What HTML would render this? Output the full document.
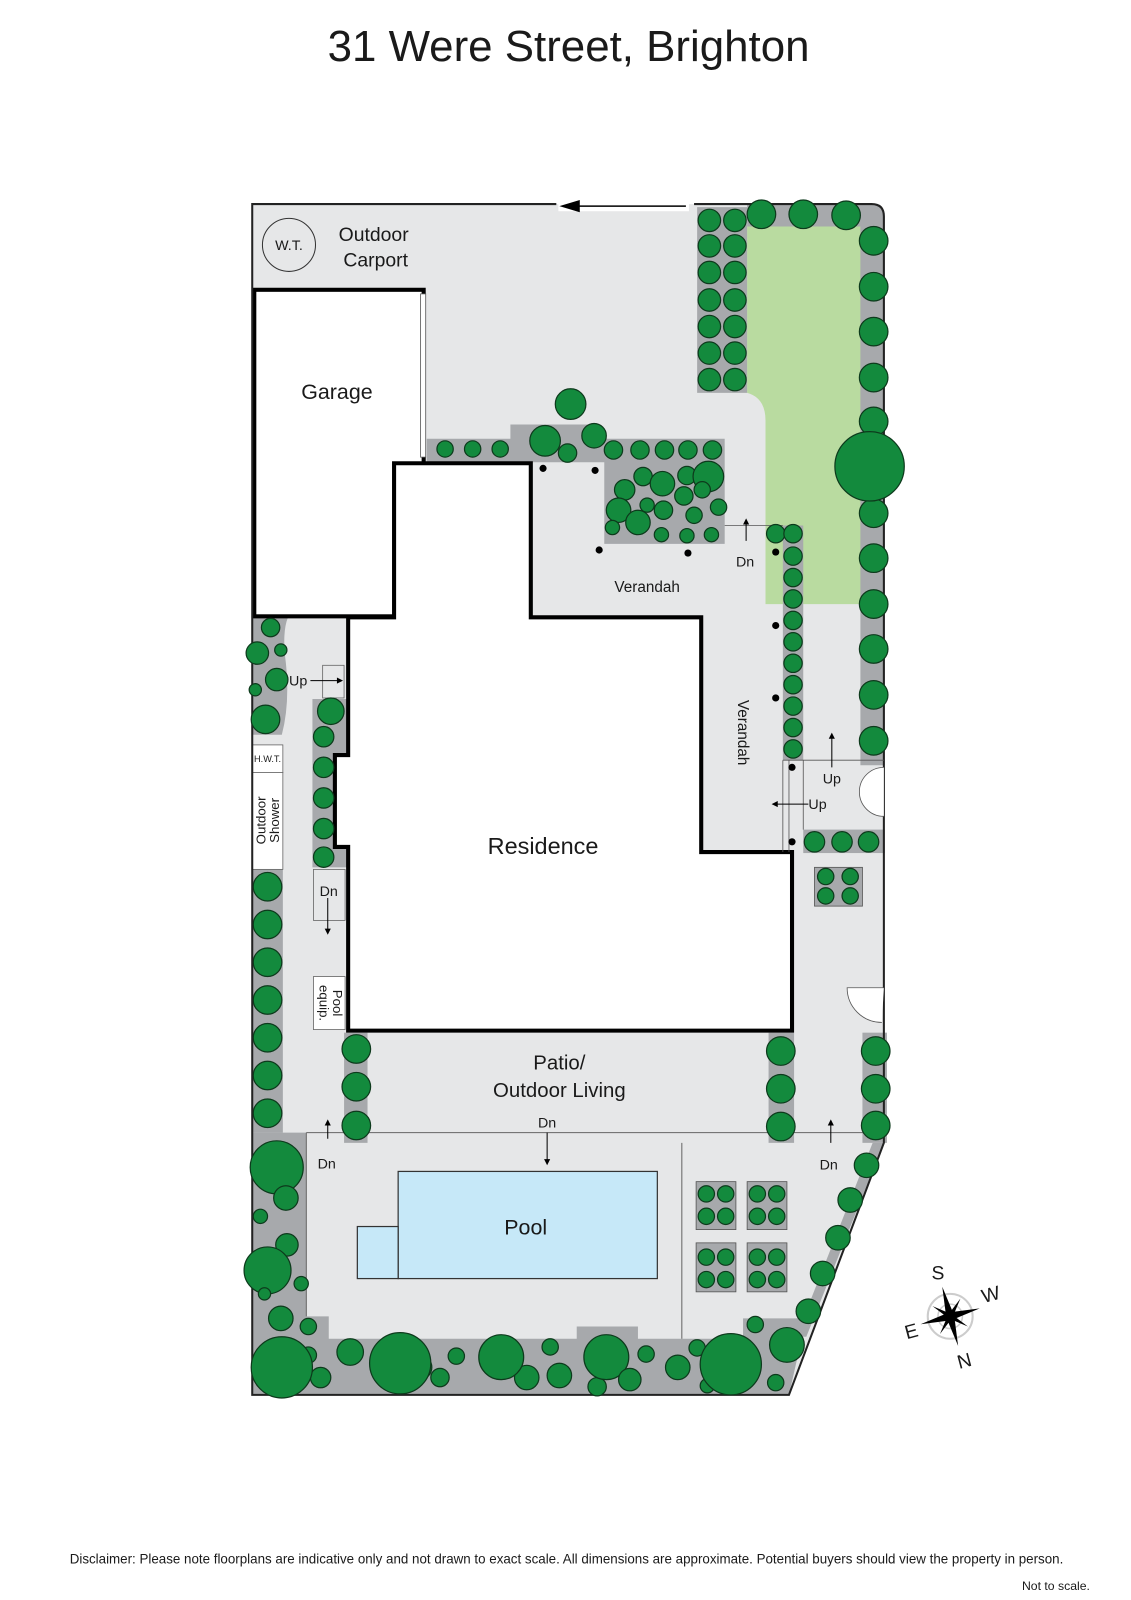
<!DOCTYPE html>
<html><head><meta charset="utf-8"><style>
html,body{margin:0;padding:0;background:#fff}
svg{display:block}
text{font-family:"Liberation Sans",Arial,sans-serif;fill:#1a1a1a}
.t{fill:#138a3d;stroke:#0d3a1c;stroke-width:1.2}
.g{fill:#a7a9ac}
.l{fill:#e6e7e8}
</style></head><body>
<svg width="1131" height="1600" viewBox="0 0 1108 1568" xmlns="http://www.w3.org/2000/svg">
<rect width="1108" height="1568" fill="#fff"/>
<text x="557" y="60" font-size="43" text-anchor="middle">31 Were Street, Brighton</text>

<path class="l" d="M247,200 H855 Q867,200 867,212 V1120 L773,1367 H247 Z"/>
<path d="M732,222 H844 V592 H750 V412 Q750,390 732,385 Z" fill="#b9dba0"/>
<rect class="g" x="683" y="203" width="49" height="182"/>
<path class="g" d="M732,200 H855 Q867,200 867,212 V750 H843 V222 H732 Z"/>
<path class="g" d="M418,430 H500 V416 H585 V430 H710 V533 H592 V453 H418 Z"/>
<rect class="g" x="767" y="515" width="20" height="230"/>
<rect class="g" x="787" y="813" width="80" height="23"/>
<rect class="g" x="798" y="850" width="47" height="38" stroke="#555" stroke-width="0.8"/>
<rect class="g" x="845" y="1012" width="24" height="108"/>
<rect class="g" x="337" y="1012" width="23" height="108"/>
<rect class="g" x="753" y="1012" width="25" height="108"/>
<path class="g" d="M247,605 H282 Q276,620 280,650 Q284,690 276,720 H247 Z"/>
<rect class="g" x="247" y="852" width="30" height="258"/>
<path class="g" d="M306,685 H340 V850 H306 Z"/>
<path class="g" d="M247,1110 H300 V1290 H322 V1312 H565 V1300 H625 V1312 H668 V1312 H728 V1292 H790 L773,1367 H247 Z"/>
<path class="g" d="M866,1120 L790,1310 L780,1310 L855,1120 Z"/>
<path d="M300,1110 H866 M668,1120 V1312 M300,1110 V1290" stroke="#666" stroke-width="1" fill="none"/>
<rect x="390" y="1148" width="254" height="105" fill="#c6e8f8" stroke="#333" stroke-width="1.2"/>
<rect x="350" y="1202" width="40" height="51" fill="#c6e8f8" stroke="#333" stroke-width="1.2"/>
<g class="g" stroke="#555" stroke-width="0.8">
<rect x="682" y="1158" width="39" height="47"/><rect x="732" y="1158" width="39" height="47"/>
<rect x="682" y="1218" width="39" height="48"/><rect x="732" y="1218" width="39" height="48"/>
</g>
<rect x="247" y="730" width="30" height="27" fill="#fff" stroke="#666" stroke-width="0.8"/>
<rect x="247" y="757" width="30" height="95" fill="#fff" stroke="#666" stroke-width="0.8"/>
<rect x="307" y="957" width="31" height="52" fill="#fff" stroke="#666" stroke-width="0.8"/>
<rect x="307" y="852" width="31" height="50" fill="#e6e7e8" stroke="#666" stroke-width="0.8"/>
<rect x="316" y="652" width="21" height="32" fill="#e6e7e8" stroke="#666" stroke-width="0.8"/>
<rect x="249" y="284" width="166" height="320" fill="#fff" stroke="#000" stroke-width="4"/>
<rect x="412" y="288" width="5" height="160" fill="#fff" stroke="#555" stroke-width="0.8"/>
<path d="M386,454 H520 V605 H687 V835 H776 V1010 H341 V830 H328 V740 H341 V605 H386 Z" fill="#fff" stroke="#000" stroke-width="4"/>
<path d="M545,200 H247 V1367 H773 L866,1120 V212 Q866,200 854,200 H680" fill="none" stroke="#222" stroke-width="2"/>
<rect x="547" y="197" width="128" height="10" fill="#fff"/>
<path d="M560,202 H672" stroke="#000" stroke-width="1.5"/><path d="M548,202 L568,196 V208 Z"/>
<path d="M710,515 H767 M767,745 H866 M767,745 V835 M773,745 V835 M787,745 V813" stroke="#555" stroke-width="0.8" fill="none"/>
<path d="M866,752 A24,24 0 0 0 842,776 A24,24 0 0 0 866,800" fill="#fff" stroke="#555" stroke-width="0.8"/>
<path d="M866,968 H830 A34,34 0 0 0 864,1002" fill="#fff" stroke="#555" stroke-width="0.8"/>
<g fill="#000"><circle cx="532" cy="459" r="3.5"/><circle cx="583" cy="461" r="3.5"/><circle cx="587" cy="539" r="3.5"/><circle cx="674" cy="542" r="3.5"/><circle cx="760" cy="541" r="3.5"/><circle cx="760" cy="613" r="3.5"/><circle cx="760" cy="684" r="3.5"/><circle cx="776" cy="752" r="3.5"/><circle cx="776" cy="825" r="3.5"/></g>
<circle cx="283" cy="240" r="26" fill="none" stroke="#333" stroke-width="1"/>

<g class="t">
<circle cx="695" cy="216" r="11"/><circle cx="720" cy="216" r="11"/><circle cx="695" cy="241" r="11"/><circle cx="720" cy="241" r="11"/><circle cx="695" cy="267" r="11"/><circle cx="720" cy="267" r="11"/><circle cx="695" cy="294" r="11"/><circle cx="720" cy="294" r="11"/><circle cx="695" cy="320" r="11"/><circle cx="720" cy="320" r="11"/><circle cx="695" cy="346" r="11"/><circle cx="720" cy="346" r="11"/><circle cx="695" cy="372" r="11"/><circle cx="720" cy="372" r="11"/>
<circle cx="746" cy="210" r="14"/><circle cx="787" cy="210" r="14"/><circle cx="829" cy="211" r="14"/>
<circle cx="856" cy="236" r="14"/><circle cx="856" cy="281" r="14"/><circle cx="856" cy="325" r="14"/><circle cx="856" cy="370" r="14"/><circle cx="856" cy="413" r="14"/><circle cx="856" cy="503" r="14"/><circle cx="856" cy="547" r="14"/><circle cx="856" cy="592" r="14"/><circle cx="856" cy="636" r="14"/><circle cx="856" cy="681" r="14"/><circle cx="856" cy="726" r="14"/><circle cx="852" cy="457" r="34"/>
<circle cx="436" cy="440" r="8"/><circle cx="463" cy="440" r="8"/><circle cx="490" cy="440" r="8"/><circle cx="534" cy="432" r="15"/><circle cx="559" cy="396" r="15"/><circle cx="582" cy="427" r="12"/><circle cx="556" cy="444" r="9"/><circle cx="601" cy="441" r="9"/><circle cx="627" cy="441" r="9"/><circle cx="651" cy="441" r="9"/><circle cx="674" cy="441" r="9"/><circle cx="698" cy="441" r="9"/>
<circle cx="612" cy="480" r="10"/><circle cx="630" cy="467" r="9"/><circle cx="649" cy="474" r="12"/><circle cx="673" cy="466" r="9"/><circle cx="694" cy="467" r="15"/><circle cx="606" cy="500" r="12"/><circle cx="625" cy="512" r="12"/><circle cx="650" cy="500" r="9"/><circle cx="670" cy="486" r="9"/><circle cx="680" cy="505" r="8"/><circle cx="704" cy="497" r="8"/><circle cx="600" cy="517" r="7"/><circle cx="648" cy="524" r="7"/><circle cx="673" cy="525" r="7"/><circle cx="697" cy="524" r="7"/><circle cx="688" cy="480" r="8"/><circle cx="634" cy="495" r="7"/>
<circle cx="760" cy="523" r="9"/><circle cx="777" cy="523" r="9"/><circle cx="777" cy="545" r="9"/><circle cx="777" cy="566" r="9"/><circle cx="777" cy="587" r="9"/><circle cx="777" cy="608" r="9"/><circle cx="777" cy="629" r="9"/><circle cx="777" cy="650" r="9"/><circle cx="777" cy="671" r="9"/><circle cx="777" cy="692" r="9"/><circle cx="777" cy="713" r="9"/><circle cx="777" cy="734" r="9"/>
<circle cx="798" cy="825" r="10"/><circle cx="825" cy="825" r="10"/><circle cx="851" cy="825" r="10"/>
<circle cx="809" cy="859" r="8"/><circle cx="833" cy="859" r="8"/><circle cx="809" cy="878" r="8"/><circle cx="833" cy="878" r="8"/>
<circle cx="858" cy="1030" r="14"/><circle cx="858" cy="1067" r="14"/><circle cx="858" cy="1103" r="14"/>
<circle cx="349" cy="1028" r="14"/><circle cx="349" cy="1065" r="14"/><circle cx="349" cy="1103" r="14"/>
<circle cx="765" cy="1030" r="14"/><circle cx="765" cy="1067" r="14"/><circle cx="765" cy="1104" r="14"/>
<circle cx="265" cy="615" r="9"/><circle cx="252" cy="640" r="11"/><circle cx="275" cy="637" r="6"/><circle cx="271" cy="666" r="11"/><circle cx="250" cy="676" r="6"/><circle cx="260" cy="705" r="14"/>
<circle cx="262" cy="869" r="14"/><circle cx="262" cy="906" r="14"/><circle cx="262" cy="943" r="14"/><circle cx="262" cy="980" r="14"/><circle cx="262" cy="1017" r="14"/><circle cx="262" cy="1054" r="14"/><circle cx="262" cy="1091" r="14"/>
<circle cx="324" cy="697" r="13"/><circle cx="317" cy="722" r="10"/><circle cx="317" cy="752" r="10"/><circle cx="317" cy="782" r="10"/><circle cx="317" cy="812" r="10"/><circle cx="317" cy="840" r="10"/>
<circle cx="271" cy="1144" r="26"/><circle cx="280" cy="1174" r="12"/><circle cx="255" cy="1192" r="7"/><circle cx="281" cy="1220" r="11"/><circle cx="262" cy="1245" r="23"/><circle cx="295" cy="1258" r="7"/><circle cx="259" cy="1268" r="6"/><circle cx="275" cy="1292" r="12"/><circle cx="302" cy="1300" r="8"/><circle cx="302" cy="1328" r="8"/><circle cx="314" cy="1350" r="10"/><circle cx="276" cy="1340" r="30"/><circle cx="343" cy="1325" r="13"/><circle cx="411" cy="1340" r="12"/><circle cx="392" cy="1336" r="30"/><circle cx="447" cy="1329" r="8"/><circle cx="431" cy="1350" r="9"/><circle cx="516" cy="1350" r="12"/><circle cx="491" cy="1330" r="22"/><circle cx="539" cy="1320" r="8"/><circle cx="548" cy="1348" r="12"/><circle cx="585" cy="1359" r="9"/><circle cx="594" cy="1330" r="22"/><circle cx="633" cy="1327" r="8"/><circle cx="617" cy="1352" r="11"/><circle cx="664" cy="1340" r="12"/><circle cx="693" cy="1358" r="7"/><circle cx="683" cy="1321" r="8"/><circle cx="740" cy="1298" r="8"/><circle cx="716" cy="1337" r="30"/><circle cx="771" cy="1318" r="17"/><circle cx="760" cy="1355" r="8"/>
<circle cx="849" cy="1142" r="12"/><circle cx="833" cy="1176" r="12"/><circle cx="821" cy="1213" r="12"/><circle cx="806" cy="1248" r="12"/><circle cx="792" cy="1285" r="12"/>
<circle cx="692" cy="1170" r="8"/><circle cx="711" cy="1170" r="8"/><circle cx="692" cy="1192" r="8"/><circle cx="711" cy="1192" r="8"/>
<circle cx="742" cy="1170" r="8"/><circle cx="761" cy="1170" r="8"/><circle cx="742" cy="1192" r="8"/><circle cx="761" cy="1192" r="8"/>
<circle cx="692" cy="1232" r="8"/><circle cx="711" cy="1232" r="8"/><circle cx="692" cy="1254" r="8"/><circle cx="711" cy="1254" r="8"/>
<circle cx="742" cy="1232" r="8"/><circle cx="761" cy="1232" r="8"/><circle cx="742" cy="1254" r="8"/><circle cx="761" cy="1254" r="8"/>
</g>

<g stroke="#000" stroke-width="1" fill="none">
<path d="M731,512 V530 M304,667 H332 M321,880 V912 M321,1100 V1116 M536,1110 V1138 M814,1100 V1120 M815,722 V752 M760,788 H792"/>
</g>
<g fill="#000">
<path d="M731,508 l-3,6 h6z"/><path d="M336,667 l-6,-3 v6z"/><path d="M321,916 l-3,-6 h6z"/><path d="M321,1097 l-3,6 h6z"/><path d="M536,1142 l-3,-6 h6z"/><path d="M814,1097 l-3,6 h6z"/><path d="M815,718 l-3,6 h6z"/><path d="M756,788 l6,-3 v6z"/>
</g>

<g font-size="14"><text x="730" y="555" text-anchor="middle">Dn</text><text x="322" y="878" text-anchor="middle">Dn</text><text x="320" y="1145" text-anchor="middle">Dn</text><text x="536" y="1105" text-anchor="middle">Dn</text><text x="812" y="1146" text-anchor="middle">Dn</text><text x="815" y="768" text-anchor="middle">Up</text><text x="801" y="793" text-anchor="middle">Up</text><text x="292" y="672" text-anchor="middle">Up</text></g>
<text x="283" y="245" font-size="14" text-anchor="middle">W.T.</text>
<text x="366" y="236" font-size="19" text-anchor="middle">Outdoor</text>
<text x="368" y="261" font-size="19" text-anchor="middle">Carport</text>
<text x="330" y="391" font-size="21" text-anchor="middle">Garage</text>
<text x="634" y="580" font-size="15" text-anchor="middle">Verandah</text>
<text font-size="15" text-anchor="middle" transform="translate(723,718) rotate(90)">Verandah</text>
<text x="532" y="837" font-size="23" text-anchor="middle">Residence</text>
<text x="548" y="1048" font-size="20" text-anchor="middle">Patio/</text>
<text x="548" y="1075" font-size="20" text-anchor="middle">Outdoor Living</text>
<text x="515" y="1210" font-size="21" text-anchor="middle">Pool</text>
<text x="262" y="747" font-size="9" text-anchor="middle">H.W.T.</text>
<g font-size="13" text-anchor="middle" transform="translate(262,804) rotate(-90)"><text x="0" y="-2">Outdoor</text><text x="0" y="11">Shower</text></g>
<g font-size="13" text-anchor="middle" transform="translate(322,983) rotate(90)"><text x="0" y="-4">Pool</text><text x="0" y="9">equip.</text></g>

<g transform="translate(931,1290)">
<circle r="22" fill="none" stroke="#ccc" stroke-width="2"/>
<circle r="12" fill="none" stroke="#ccc" stroke-width="1.5"/>
<g transform="rotate(-15)" fill="#000">
<path d="M0,-30 L4,0 L0,30 L-4,0Z"/><path d="M-30,0 L0,-4 L30,0 L0,4Z"/>
<g transform="rotate(45)"><path d="M0,-20 L2.5,0 L0,20 L-2.5,0Z"/><path d="M-20,0 L0,-2.5 L20,0 L0,2.5Z"/></g>
</g>
<text x="-12" y="-36" font-size="19" text-anchor="middle">S</text>
<text x="44" y="-4" font-size="19" text-anchor="middle" transform="rotate(-15)">W</text>
<text x="-38" y="21" font-size="19" text-anchor="middle" transform="rotate(-15 -38 15)">E</text>
<text x="14" y="50" font-size="19" text-anchor="middle" transform="rotate(-15 14 44)">N</text>
</g>

<text x="555" y="1532" font-size="13.1" text-anchor="middle">Disclaimer: Please note floorplans are indicative only and not drawn to exact scale. All dimensions are approximate. Potential buyers should view the property in person.</text>
<text x="1068" y="1558" font-size="12" text-anchor="end">Not to scale.</text>
</svg>
</body></html>
